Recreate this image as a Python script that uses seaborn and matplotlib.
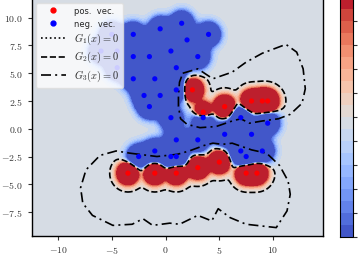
import numpy as np
import pandas as pd
import matplotlib
matplotlib.use('Agg')
import matplotlib.pyplot as plt
from matplotlib.lines import Line2D
from matplotlib.ticker import FuncFormatter
import seaborn as sns

# support vectors
pos_x = [2.5, 3.5, 5.5, 8.0, 9.0, 9.5, -3.5, -1.0, 1.0, 3.0, 5.0, 7.5, 8.5]
pos_y = [3.5, 1.5, 2.0, 2.5, 2.5, 2.5, -4.0, -4.0, -4.0, -3.5, -3.0, -4.0, -4.0]

neg_x = [-3.0, -0.5, 1.5, 4.0, 2.0, 0.5, -3.0, -1.5, 3.0, 1.0,
         -3.0, -1.0, -2.0, -0.5, -1.5, 1.0, 0.5, 3.5, 7.0, 9.5,
         3.0, 1.0, 5.5, 8.0, -2.5, -1.0, 0.5, 1.0, 7.0, 9.0, 7.5,
         -5.0, -6.0, -4.5, -4.5]
neg_y = [8.5, 9.0, 9.5, 8.5, 8.0, 7.0, 6.5, 6.5, 6.5, 5.5,
         4.5, 4.5, 3.0, 3.0, 2.0, 3.5, 1.0, 1.0, 1.0, 0.5,
         -1.0, -1.0, -0.5, -0.5, -2.5, -2.0, -2.5, -2.5, -2.0, -2.0, -2.5,
         8.5, 7.0, 7.0, 5.5]

# G3(x)=0 curve, two closed loops
g3_up_x = [1.6, 3.0, 4.4, 6.2, 7.5, 9.0, 11.2, 12.2, 12.8, 13.0, 12.7, 11.6, 10.5,
           9.0, 7.8, 7.0, 6.2, 4.7, 3.2, 2.0, 1.4, 1.2, 1.2, 1.3, 1.6]
g3_up_y = [5.0, 5.4, 4.5, 5.1, 6.0, 6.8, 7.6, 6.9, 5.4, 3.6, 2.3, 1.3, 0.9,
           0.7, 0.5, 0.9, 0.7, 0.2, 0.1, 0.4, 0.9, 2.0, 3.0, 4.2, 5.0]
g3_lo_x = [-3.3, -0.8, 1.1, 2.2, 3.6, 4.4, 5.3, 6.2, 8.0, 9.4, 10.6, 11.4, 11.6, 11.3,
           10.3, 7.5, 6.0, 4.9, 4.3, 3.0, 1.3, 0.4, -1.2, -2.1, -3.1, -4.9, -6.8,
           -7.7, -7.9, -7.4, -6.1, -4.6, -3.3]
g3_lo_y = [-2.2, -2.5, -2.3, -2.0, -1.5, -1.3, -1.4, -1.3, -1.9, -2.2, -3.3, -4.7, -5.9, -7.4,
           -8.9, -8.6, -8.0, -7.2, -8.3, -7.8, -8.6, -8.5, -8.7, -8.1, -8.6, -8.7, -7.8,
           -6.7, -5.3, -3.7, -2.4, -2.0, -2.2]

xlim = (-12.45, 14.62)
ylim = (-9.66, 11.78)

sns.set_style('ticks')
plt.rcParams['mathtext.fontset'] = 'cm'
plt.rcParams['font.family'] = ['DejaVu Sans']

fig = plt.figure(figsize=(3.59, 2.56), dpi=100)
ax = fig.add_axes([0.0883, 0.078, 0.8106, 0.93])
cax = fig.add_axes([340 / 359, 0.0742, 13 / 359, 0.9375])

# decision field: rbf bumps from both sets of vectors
gx = np.linspace(xlim[0], xlim[1], 400)
gy = np.linspace(ylim[0], ylim[1], 400)
X, Y = np.meshgrid(gx, gy)
P = np.zeros_like(X)
N = np.zeros_like(X)
for px, py in zip(pos_x, pos_y):
    P += 3.0 * np.exp(-1.75 * ((X - px) ** 2 + (Y - py) ** 2))
for nx, ny in zip(neg_x, neg_y):
    N += 2.5 * np.exp(-1.23 * ((X - nx) ** 2 + (Y - ny) ** 2))
Z = np.clip(0.48 + P - N, 0.0005, 0.9995)

levels = np.linspace(0, 1, 21)
cf = ax.contourf(X, Y, Z, levels=levels, cmap='coolwarm')
ax.contour(X, Y, Z, levels=[0.5], colors='black', linestyles='--', linewidths=1.2)

ax.plot(g3_up_x, g3_up_y, color='black', lw=1.2, linestyle=(0, (6, 2.5, 1.2, 2.5)))
ax.plot(g3_lo_x, g3_lo_y, color='black', lw=1.2, linestyle=(0, (6, 2.5, 1.2, 2.5)))

pts = pd.DataFrame({'x': pos_x + neg_x, 'y': pos_y + neg_y,
                    'kind': ['pos'] * len(pos_x) + ['neg'] * len(neg_x)})
sns.scatterplot(data=pts, x='x', y='y', hue='kind', palette={'pos': 'red', 'neg': 'blue'},
                s=14, linewidth=0, legend=False, ax=ax, zorder=5)

ax.set_xlim(xlim)
ax.set_ylim(ylim)
ax.set_xlabel('')
ax.set_ylabel('')
ax.set_xticks([-10, -5, 0, 5, 10])
ax.set_yticks([-7.5, -5.0, -2.5, 0.0, 2.5, 5.0, 7.5, 10.0])
ax.xaxis.set_major_formatter(FuncFormatter(lambda v, p: r'$%d$' % v))
ax.yaxis.set_major_formatter(FuncFormatter(lambda v, p: r'$%.1f$' % v))
ax.tick_params(labelsize=7, length=3, width=0.8, colors='#333333', labelcolor='#333333')
for s in ax.spines.values():
    s.set_color('black')
    s.set_linewidth(1.0)
    s.set_visible(True)

handles = [Line2D([], [], marker='o', color='red', ls='', markersize=3.5),
           Line2D([], [], marker='o', color='blue', ls='', markersize=3.5),
           Line2D([], [], color='black', ls=':', lw=1.2),
           Line2D([], [], color='black', ls='--', lw=1.2),
           Line2D([], [], color='black', lw=1.2, ls=(0, (6, 2.5, 1.2, 2.5)))]
labels = ['pos.  vec.', 'neg.  vec.', r'$G_1(x)=0$', r'$G_2(x)=0$', r'$G_3(x)=0$']
leg = ax.legend(handles, labels, loc='upper left', fontsize=7.5, handlelength=2.4,
                frameon=True, framealpha=0.8, borderaxespad=0.45, labelspacing=0.3,
                handletextpad=0.8, borderpad=0.4)
for t in leg.get_texts()[:2]:
    t.set_fontsize(6)
leg.get_frame().set_edgecolor('#dddddd')
leg.set_zorder(10)

cb = fig.colorbar(cf, cax=cax)
cb.set_ticks(levels[::2])
cb.ax.yaxis.set_major_formatter(FuncFormatter(lambda v, p: r'$%.1f$' % v))
cb.ax.tick_params(labelsize=7, length=3, colors='#333333')
cb.outline.set_edgecolor('black')

fig.savefig('out.png', dpi=100)
